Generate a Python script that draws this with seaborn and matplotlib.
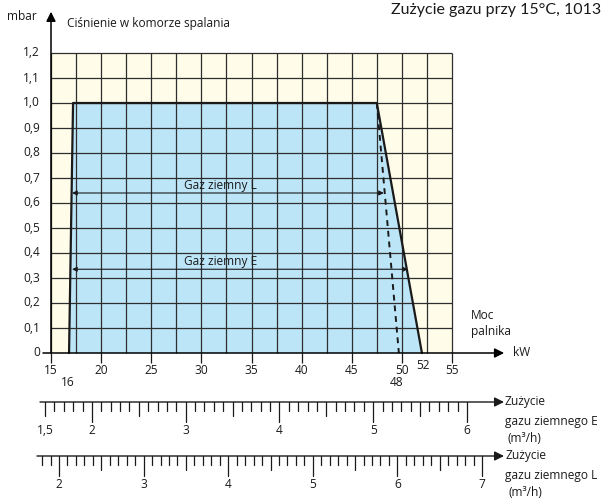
import numpy as np
import pandas as pd
import matplotlib
matplotlib.use("Agg")
import matplotlib.pyplot as plt
import seaborn as sns
from matplotlib.patches import Rectangle

# --- data ---
boundary_kw = [16.8, 17.2, 47.5, 52.0]
boundary_mbar = [0.0, 1.0, 1.0, 0.0]
dashed_kw = [47.5, 49.7]
dashed_mbar = [1.0, 0.0]

arrow_L_kw = [17.1, 48.2]
arrow_L_mbar = 0.64
arrow_E_kw = [17.1, 50.6]
arrow_E_mbar = 0.335

x_ticks = [15, 20, 25, 30, 35, 40, 45, 50, 55]
y_ticks = [0.0, 0.1, 0.2, 0.3, 0.4, 0.5, 0.6, 0.7, 0.8, 0.9, 1.0, 1.1, 1.2]
y_labels = ["0", "0,1", "0,2", "0,3", "0,4", "0,5", "0,6", "0,7", "0,8", "0,9", "1,0", "1,1", "1,2"]

gas_E_labels = [1.5, 2, 3, 4, 5, 6]
gas_L_labels = [2, 3, 4, 5, 6, 7]

# --- figure setup ---
sns.set_theme(style="white")
plt.rcParams['font.family'] = ['Open Sans', 'DejaVu Sans']
FS = 8.6

W, H = 603, 501
fig = plt.figure(figsize=(W / 100, H / 100), dpi=100)

# main axes fill the whole figure; limits chosen so 15..55 kW and 0..1.2 mbar land on the grid
px_per_kw = 10.025
px_per_mbar = 250.0
x0_px, y0_px = 51, 353
xlim = (15 - x0_px / px_per_kw, 15 + (W - x0_px) / px_per_kw)
ylim = (-(H - y0_px) / px_per_mbar, y0_px / px_per_mbar)

ax = fig.add_axes([0, 0, 1, 1])

ink = "#1a1a1a"
grid_c = "#2e2e2e"

# background and fill
ax.add_patch(Rectangle((15, 0), 40, 1.2, facecolor="#fffde9", edgecolor="none", zorder=0))
ax.fill(boundary_kw, boundary_mbar, color="#bde5f8", zorder=1, lw=0)

# grid
ax.vlines(np.arange(15, 55.01, 2.5), 0, 1.2, color=grid_c, lw=0.9, zorder=2)
ax.hlines(np.arange(0.1, 1.201, 0.1), 15, 55, color=grid_c, lw=0.9, zorder=2)

# outline
df = pd.DataFrame({"kw": boundary_kw, "mbar": boundary_mbar})
sns.lineplot(data=df, x="kw", y="mbar", sort=False, color=ink, lw=1.6, ax=ax, zorder=4)
dd = pd.DataFrame({"kw": dashed_kw, "mbar": dashed_mbar})
sns.lineplot(data=dd, x="kw", y="mbar", sort=False, color=ink, lw=1.4, ax=ax, zorder=4,
             linestyle=(0, (3, 2.5)))
ax.set_xlim(xlim)
ax.set_ylim(ylim)
ax.axis("off")

# range arrows
for kws, yv, lab, dy in [(arrow_L_kw, arrow_L_mbar, "Gaz ziemny L", 0.03),
                         (arrow_E_kw, arrow_E_mbar, "Gaz ziemny E", 0.03)]:
    ax.annotate("", xy=(kws[1], yv), xytext=(kws[0], yv),
                arrowprops=dict(arrowstyle="<|-|>", color=ink, lw=0.8,
                                mutation_scale=7, shrinkA=0, shrinkB=0), zorder=5)
    ax.text(31.9, yv + dy, lab, ha="center", va="center", fontsize=FS, color=ink, zorder=5)

# axes lines with arrow heads
ax.annotate("", xy=(15, 1.365), xytext=(15, 0),
            arrowprops=dict(arrowstyle="-|>", color="black", lw=1.1,
                            mutation_scale=14, shrinkA=0, shrinkB=0), zorder=6)
ax.annotate("", xy=(60.2, 0), xytext=(14.2, 0),
            arrowprops=dict(arrowstyle="-|>", color="black", lw=1.1,
                            mutation_scale=14, shrinkA=0, shrinkB=0), zorder=6)

# ticks and tick labels
ax.vlines(x_ticks, -0.04, 0, color=ink, lw=0.9)
for xt in x_ticks:
    ax.text(xt, -0.072, str(xt), ha="center", va="center", fontsize=FS, color=ink)
ax.text(52.1, -0.05, "52", ha="center", va="center", fontsize=FS, color=ink)
ax.text(16.7, -0.12, "16", ha="center", va="center", fontsize=FS, color=ink)
ax.text(49.5, -0.12, "48", ha="center", va="center", fontsize=FS, color=ink)
for yt, yl in zip(y_ticks, y_labels):
    ax.text(13.9, yt, yl, ha="right", va="center", fontsize=FS, color=ink)

ax.text(10.6, 1.345, "mbar", ha="left", va="center", fontsize=FS, color=ink)
ax.text(16.6, 1.318, "Ciśnienie w komorze spalania", ha="left", va="center", fontsize=FS, color=ink)
ax.text(56.9, 0.15, "Moc", ha="left", va="center", fontsize=FS, color=ink)
ax.text(56.9, 0.085, "palnika", ha="left", va="center", fontsize=FS, color=ink)
ax.text(61.1, 0.0, "kW", ha="left", va="center", fontsize=FS, color=ink)

fig.text(601 / W, 1 - 10 / H, "Zużycie gazu przy 15°C, 1013", ha="right", va="center",
         fontsize=11.5, color=ink, family=["Lato", "DejaVu Sans"])


# --- consumption scales below the chart ---
def draw_scale(px_a, px_b, val_a, val_b, y_px, line_px, start, stop, labels, name):
    ppu = (px_b - px_a) / (val_b - val_a)
    sx = fig.add_axes([0, 0, 1, 1])
    x_left = val_a - px_a / ppu
    sx.set_xlim(x_left, x_left + W / ppu)
    sx.set_ylim(H, 0)
    sx.axis("off")
    sx.patch.set_alpha(0)
    sx.annotate("", xy=(x_left + 504 / ppu, y_px), xytext=(x_left + line_px / ppu, y_px),
                arrowprops=dict(arrowstyle="-|>", color=ink, lw=1.0,
                                mutation_scale=14, shrinkA=0, shrinkB=0))
    vals = np.round(np.arange(start, stop + 1e-6, 0.1), 2)
    for v in vals:
        if abs(v - round(v)) < 1e-6:
            ln = 20
        elif abs(v * 2 - round(v * 2)) < 1e-6:
            ln = 14
        else:
            ln = 9
        sx.plot([v, v], [y_px, y_px + ln], color=ink, lw=0.9)
    for v in labels:
        sx.text(v, y_px + 29, str(v).replace(".", ","), ha="center", va="center",
                fontsize=FS, color=ink)
    sx.text(x_left + 505 / ppu, y_px, "Zużycie", ha="left", va="center", fontsize=FS, color=ink)
    sx.text(x_left + 505 / ppu, y_px + 19, name, ha="left", va="center", fontsize=FS, color=ink)
    sx.text(x_left + 508 / ppu, y_px + 37, "(m³/h)", ha="left", va="center", fontsize=FS, color=ink)


draw_scale(92, 467, 2, 6, 402, 40, 1.5, 6.0, gas_E_labels, "gazu ziemnego E")
draw_scale(59, 482, 2, 7, 456, 37, 1.8, 7.0, gas_L_labels, "gazu ziemnego L")

fig.savefig("out.png", dpi=100)
